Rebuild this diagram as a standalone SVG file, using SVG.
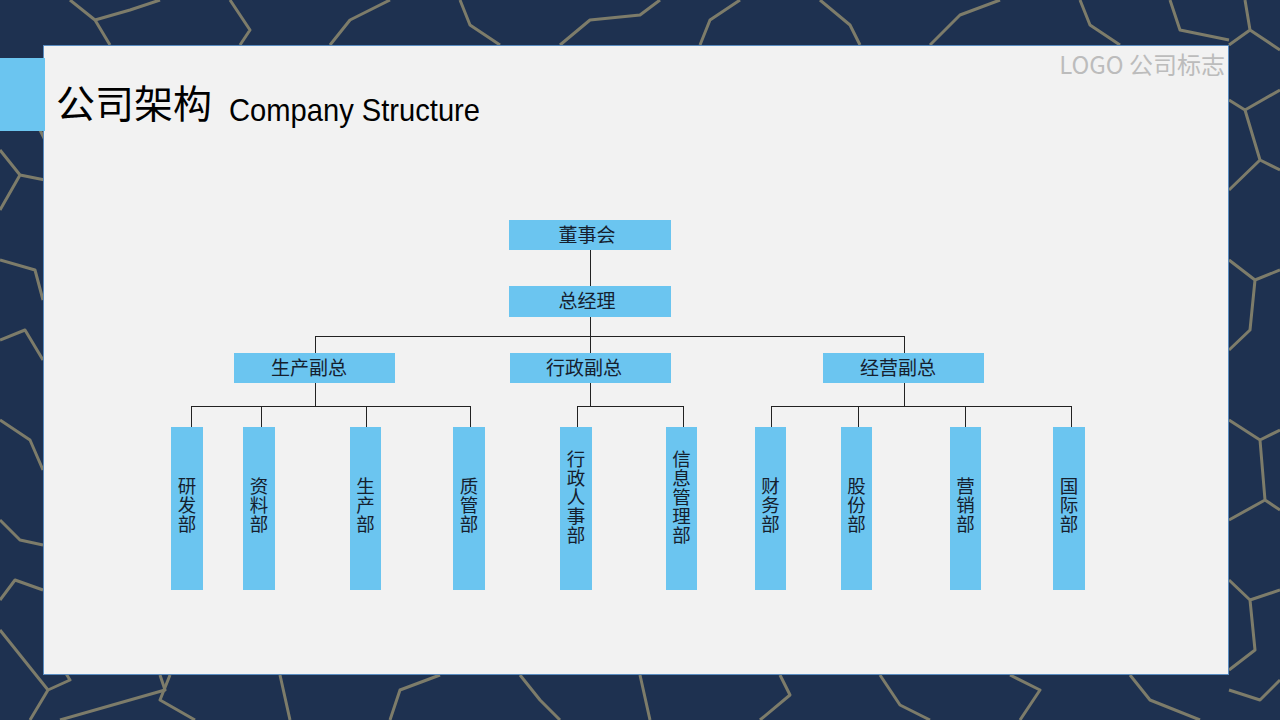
<svg xmlns="http://www.w3.org/2000/svg" width="1280" height="720" viewBox="0 0 1280 720">
<style>
.box{fill:#6BC5F0}
.lbl{font-family:"Noto Sans CJK SC","Microsoft YaHei",sans-serif;font-size:19px;fill:#15202e;text-anchor:middle}
.vl{font-family:"Noto Sans CJK SC","Microsoft YaHei",sans-serif;font-size:18.5px;fill:#15202e;text-anchor:middle}
.ln{stroke:#222;stroke-width:1;fill:none}
.crack{stroke:#7d7c6a;stroke-width:3;fill:none;stroke-linejoin:round}
</style>
<g id="background">
<rect x="0" y="0" width="1280" height="720" fill="#1e3150"/>
<g class="crack">
<path d="M0 92 L30 110 L45 140 M0 150 L20 175 L0 210 M20 175 L45 180"/>
<path d="M0 260 L35 270 L43 300 M0 340 L25 330 L43 360 M0 420 L30 440 L43 470 M0 520 L20 540 L43 545 M0 600 L15 580 L43 590"/>
<path d="M0 630 L48 690 L30 720 M48 690 L70 680 L45 640 M170 675 L160 700 L195 720"/>
<path d="M160 675 L165 690 L60 720"/>
<path d="M280 675 L290 720 M390 720 L400 690 L440 675 M520 675 L540 700 L560 720 M640 675 L650 720 M760 720 L790 695 L780 675 M880 675 L900 705 L930 720 M1020 720 L1040 690 L1010 675 M1130 675 L1150 700 L1200 720 M1229 690 L1260 700 L1280 680"/>
<path d="M70 0 L95 20 L110 45 M95 20 L130 10 L160 0 M230 0 L250 30 L240 45 M330 45 L350 20 L390 0 M460 0 L470 25 L500 45 M560 45 L590 20 L640 15 L660 0 M700 45 L710 20 L740 0 M820 0 L850 25 L860 45 M930 45 L960 15 L1000 0 M1080 0 L1090 25 L1120 45 M1170 0 L1180 30 L1229 40"/>
<path d="M1229 100 L1245 110 L1280 90 M1245 110 L1260 160 L1229 190 M1260 160 L1280 170 M1229 260 L1255 280 L1280 270 M1255 280 L1250 330 L1229 350 M1229 420 L1260 440 L1280 430 M1260 440 L1265 500 L1229 520 M1265 500 L1280 510 M1229 580 L1250 600 L1280 590 M1250 600 L1255 650 L1229 670 M1245 0 L1250 30 L1229 45 M1250 30 L1280 50"/>
</g>
</g>
<g id="panel">
<rect x="43.5" y="45.5" width="1185" height="629" fill="#f2f2f2" stroke="#5a8cc0" stroke-width="1"/>
<rect x="0" y="58" width="45" height="73" fill="#6BC5F0"/>
<text x="56" y="118" font-family="Noto Sans CJK SC,Microsoft YaHei,sans-serif" font-size="39" fill="#000">公司架构</text>
<text x="229" y="121" font-family="Liberation Sans,Arial,sans-serif" font-size="32" fill="#000" textLength="251" lengthAdjust="spacingAndGlyphs">Company Structure</text>
<text x="1225" y="74" text-anchor="end" font-family="Noto Sans CJK SC,Microsoft YaHei,sans-serif" font-size="24" fill="#bcbcbc">LOGO 公司标志</text>
</g>
<g id="connectors" class="ln">
<path d="M590.5 250 V286 M590.5 317 V353 M315.5 336.5 H904.5 M315.5 336 V353 M904.5 336 V353"/>
<path d="M315.5 383 V406.5 M191.5 406.5 H470.5 M191.5 406 V427 M261.5 406 V427 M366.5 406 V427 M470.5 406 V427"/>
<path d="M590.5 383 V406.5 M577.5 406.5 H683.5 M577.5 406 V427 M683.5 406 V427"/>
<path d="M904.5 383 V406.5 M771.5 406.5 H1071.5 M771.5 406 V427 M858.5 406 V427 M965.5 406 V427 M1071.5 406 V427"/>
</g>
<g id="n-board"><rect class="box" x="509" y="220" width="162" height="30"/><text class="lbl" x="587" y="242">董事会</text></g>
<g id="n-gm"><rect class="box" x="509" y="286" width="162" height="31"/><text class="lbl" x="587" y="308">总经理</text></g>
<g id="n-prod-vp"><rect class="box" x="234" y="353" width="161" height="30"/><text class="lbl" x="309" y="375">生产副总</text></g>
<g id="n-admin-vp"><rect class="box" x="510" y="353" width="161" height="30"/><text class="lbl" x="584" y="375">行政副总</text></g>
<g id="n-biz-vp"><rect class="box" x="823" y="353" width="161" height="30"/><text class="lbl" x="898" y="375">经营副总</text></g>
<g id="n-rd"><rect class="box" x="171" y="427" width="32" height="163"/><text class="vl"><tspan x="187" y="493">研</tspan><tspan x="187" y="512">发</tspan><tspan x="187" y="531">部</tspan></text></g>
<g id="n-data"><rect class="box" x="243" y="427" width="32" height="163"/><text class="vl"><tspan x="259" y="493">资</tspan><tspan x="259" y="512">料</tspan><tspan x="259" y="531">部</tspan></text></g>
<g id="n-prod"><rect class="box" x="350" y="427" width="31" height="163"/><text class="vl"><tspan x="365.5" y="493">生</tspan><tspan x="365.5" y="512">产</tspan><tspan x="365.5" y="531">部</tspan></text></g>
<g id="n-qc"><rect class="box" x="453" y="427" width="32" height="163"/><text class="vl"><tspan x="469" y="493">质</tspan><tspan x="469" y="512">管</tspan><tspan x="469" y="531">部</tspan></text></g>
<g id="n-hr"><rect class="box" x="560" y="427" width="32" height="163"/><text class="vl"><tspan x="576" y="466">行</tspan><tspan x="576" y="485">政</tspan><tspan x="576" y="504">人</tspan><tspan x="576" y="523">事</tspan><tspan x="576" y="542">部</tspan></text></g>
<g id="n-it"><rect class="box" x="666" y="427" width="31" height="163"/><text class="vl"><tspan x="681.5" y="466">信</tspan><tspan x="681.5" y="485">息</tspan><tspan x="681.5" y="504">管</tspan><tspan x="681.5" y="523">理</tspan><tspan x="681.5" y="542">部</tspan></text></g>
<g id="n-fin"><rect class="box" x="755" y="427" width="31" height="163"/><text class="vl"><tspan x="770.5" y="493">财</tspan><tspan x="770.5" y="512">务</tspan><tspan x="770.5" y="531">部</tspan></text></g>
<g id="n-share"><rect class="box" x="841" y="427" width="31" height="163"/><text class="vl"><tspan x="856.5" y="493">股</tspan><tspan x="856.5" y="512">份</tspan><tspan x="856.5" y="531">部</tspan></text></g>
<g id="n-mkt"><rect class="box" x="950" y="427" width="31" height="163"/><text class="vl"><tspan x="965.5" y="493">营</tspan><tspan x="965.5" y="512">销</tspan><tspan x="965.5" y="531">部</tspan></text></g>
<g id="n-intl"><rect class="box" x="1053" y="427" width="32" height="163"/><text class="vl"><tspan x="1069" y="493">国</tspan><tspan x="1069" y="512">际</tspan><tspan x="1069" y="531">部</tspan></text></g>
</svg>
